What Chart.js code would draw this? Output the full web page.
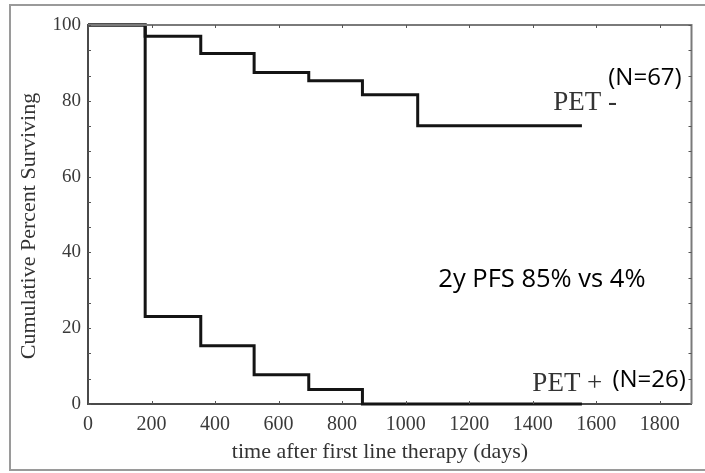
<!DOCTYPE html>
<html>
<head>
<meta charset="utf-8">
<script src="https://cdn.jsdelivr.net/npm/chart.js@4/dist/chart.umd.min.js"></script>
<style>
  html, body { margin: 0; padding: 0; background: #fff; }
  #wrap { width: 705px; height: 473px; }
</style>
</head>
<body>
<div id="wrap"><canvas id="km" width="705" height="473"></canvas></div>
<script>
// Kaplan-Meier progression-free survival by interim PET result
const petNegDays = [0, 180, 355, 523, 695, 864, 1038, 1555];
const petNegSurv = [100, 97.0, 92.5, 87.5, 85.3, 81.6, 73.4, 73.4];
const petPosDays = [0, 180, 355, 523, 695, 864, 1555];
const petPosSurv = [100, 23.1, 15.4, 7.7, 3.8, 0, 0];

const xTickValues = [0, 200, 400, 600, 800, 1000, 1200, 1400, 1600, 1800];
const yTickValues = [0, 20, 40, 60, 80, 100];
const yMinorStep = 20 / 3;

const xTitle = 'time after first line therapy (days)';
const yTitle = 'Cumulative Percent Surviving';

// text notes placed in data units: [text, x, y, font, colour]
const notes = [
  ['PET -', 1465, 77.6, '27px "Liberation Serif"', '#333'],
  ['(N=67)', 1638, 84.2, '24px "Open Sans"', '#000'],
  ['2y PFS 85% vs 4%', 1103, 30.9, '25.5px "Open Sans"', '#000'],
  ['PET +', 1399, 3.4, '27px "Liberation Serif"', '#333'],
  ['(N=26)', 1651, 4.5, '24px "Open Sans"', '#000']
];

const toPoints = (xs, ys) => xs.map((x, i) => ({ x: x, y: ys[i] }));

const framePlugin = {
  id: 'frame',
  beforeDraw(chart) {
    const c = chart.ctx;
    c.save();
    c.fillStyle = '#fff';
    c.fillRect(0, 0, chart.width, chart.height);
    // outer panel edges
    c.strokeStyle = '#9a9a9a';
    c.lineWidth = 2;
    c.beginPath();
    c.moveTo(chart.width, 5); c.lineTo(10, 5); c.lineTo(10, 470); c.lineTo(chart.width, 470);
    c.stroke();
    c.restore();
  },
  afterDraw(chart) {
    const c = chart.ctx;
    const a = chart.chartArea;
    const xs = chart.scales.x, ys = chart.scales.y;
    c.save();
    // top and right edges of the plot box
    c.strokeStyle = '#7a7a7a';
    c.lineWidth = 2;
    c.beginPath();
    c.moveTo(a.left, a.top); c.lineTo(a.right, a.top); c.lineTo(a.right, a.bottom);
    c.stroke();
    // inward tick marks
    c.strokeStyle = '#555';
    c.lineWidth = 1;
    c.beginPath();
    xTickValues.forEach(v => {
      const px = Math.round(xs.getPixelForValue(v)) + 0.5;
      c.moveTo(px, a.bottom); c.lineTo(px, a.bottom - 3);
      c.moveTo(px, a.top); c.lineTo(px, a.top + 3);
    });
    for (let k = 0; k <= 15; k++) {
      const py = Math.round(ys.getPixelForValue(k * yMinorStep)) + 0.5;
      c.moveTo(a.left, py); c.lineTo(a.left + 3, py);
      c.moveTo(a.right, py); c.lineTo(a.right - 3, py);
    }
    c.stroke();

    // axis titles
    c.fillStyle = '#333';
    c.font = '22px "Liberation Serif"';
    c.textAlign = 'center';
    c.textBaseline = 'alphabetic';
    c.fillText(xTitle, 380, 457.5);
    c.save();
    c.translate(35, 226);
    c.rotate(-Math.PI / 2);
    c.fillText(yTitle, 0, 0);
    c.restore();

    // notes
    c.textAlign = 'left';
    notes.forEach(([t, x, y, f, col]) => {
      c.font = f;
      c.fillStyle = col;
      c.fillText(t, xs.getPixelForValue(x), ys.getPixelForValue(y));
    });
    c.restore();
  }
};

const plainNumber = v => String(v);

new Chart(document.getElementById('km'), {
  type: 'line',
  data: {
    datasets: [
      {
        label: 'PET -',
        data: toPoints(petNegDays, petNegSurv),
        stepped: 'before',
        borderColor: '#141414',
        borderWidth: 3,
        pointRadius: 0,
        fill: false,
        clip: false
      },
      {
        label: 'PET +',
        data: toPoints(petPosDays, petPosSurv),
        stepped: 'before',
        borderColor: '#141414',
        borderWidth: 3,
        pointRadius: 0,
        fill: false,
        clip: false
      }
    ]
  },
  options: {
    responsive: false,
    animation: false,
    devicePixelRatio: 1,
    layout: { padding: { left: 0, top: 25, right: 13.5, bottom: 0 } },
    plugins: { legend: { display: false }, tooltip: { enabled: false } },
    scales: {
      x: {
        type: 'linear',
        min: 0,
        max: 1900,
        afterFit(s) { s.height = 69; },
        afterBuildTicks(s) { s.ticks = xTickValues.map(v => ({ value: v })); },
        grid: { display: false, drawTicks: false },
        border: { display: true, color: '#4a4a4a', width: 2 },
        ticks: {
          padding: 9,
          color: '#3a3a3a',
          font: { family: 'Liberation Serif', size: 20 },
          maxRotation: 0,
          autoSkip: false,
          callback: plainNumber
        }
      },
      y: {
        type: 'linear',
        min: 0,
        max: 100,
        afterFit(s) { s.width = 88; },
        afterBuildTicks(s) { s.ticks = yTickValues.map(v => ({ value: v })); },
        grid: { display: false, drawTicks: false },
        border: { display: true, color: '#4a4a4a', width: 2 },
        ticks: {
          padding: 7,
          color: '#3a3a3a',
          font: { family: 'Liberation Serif', size: 19 },
          autoSkip: false,
          callback: plainNumber
        }
      }
    }
  },
  plugins: [framePlugin]
});
</script>
</body>
</html>
